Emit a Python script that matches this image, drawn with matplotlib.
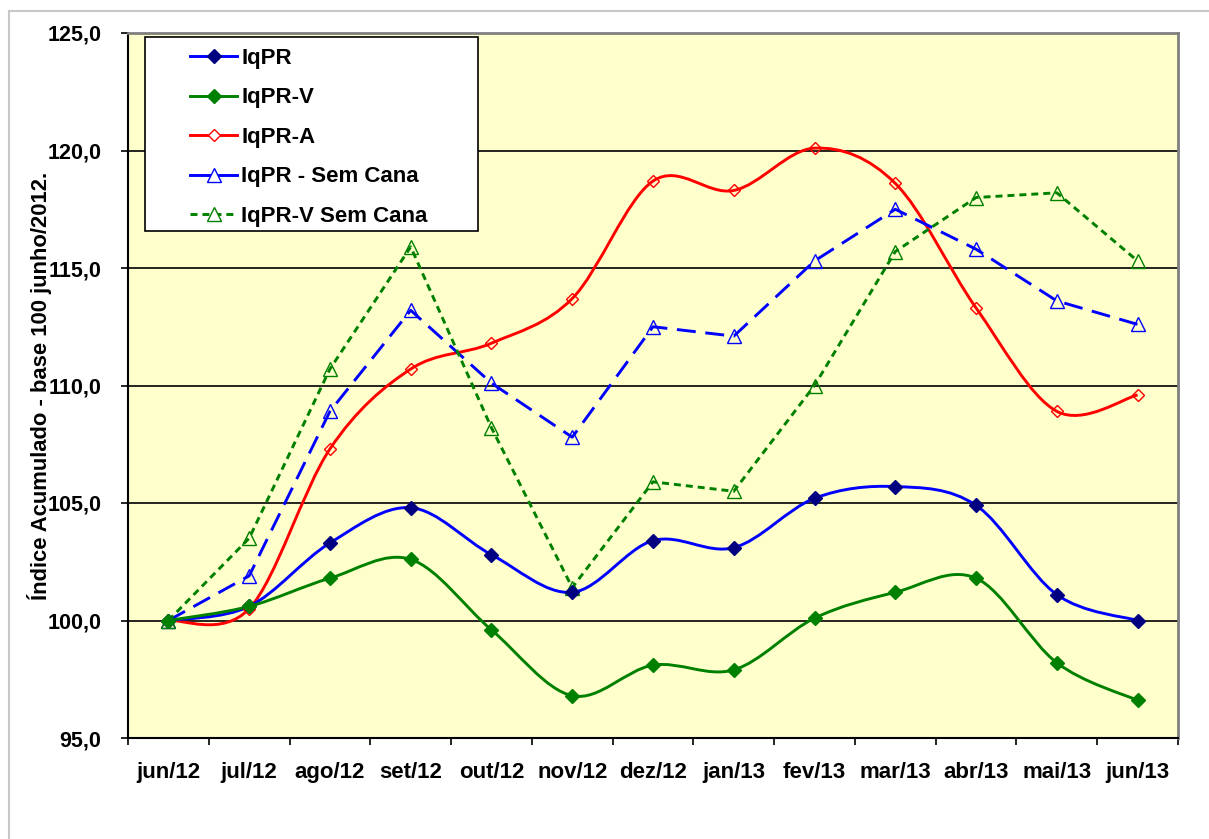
import matplotlib
matplotlib.use("Agg")
import matplotlib.pyplot as plt
from matplotlib.path import Path
from matplotlib.patches import PathPatch, Rectangle
from matplotlib.lines import Line2D
from matplotlib.ticker import FixedLocator, FuncFormatter

plt.rcParams['font.family'] = ['Liberation Sans', 'DejaVu Sans']
plt.rcParams['font.weight'] = 'bold'

# data
meses = ["jun/12", "jul/12", "ago/12", "set/12", "out/12", "nov/12", "dez/12",
         "jan/13", "fev/13", "mar/13", "abr/13", "mai/13", "jun/13"]
iqpr = [100.0, 100.6, 103.3, 104.8, 102.8, 101.2, 103.4, 103.1, 105.2, 105.7, 104.9, 101.1, 100.0]
iqpr_v = [100.0, 100.6, 101.8, 102.6, 99.6, 96.8, 98.1, 97.9, 100.1, 101.2, 101.8, 98.2, 96.6]
iqpr_a = [100.0, 100.5, 107.3, 110.7, 111.8, 113.7, 118.7, 118.3, 120.1, 118.6, 113.3, 108.9, 109.6]
iqpr_sc = [100.0, 101.9, 108.9, 113.2, 110.1, 107.8, 112.5, 112.1, 115.3, 117.5, 115.8, 113.6, 112.6]
iqpr_v_sc = [100.0, 103.5, 110.7, 115.9, 108.2, 101.4, 105.9, 105.5, 110.0, 115.7, 118.0, 118.2, 115.3]

LW = 2.1


def smooth_path(xs, ys):
    # excel-like smoothed line: cubic bezier through the points
    n = len(xs)
    verts = [(xs[0], ys[0])]
    codes = [Path.MOVETO]
    for i in range(n - 1):
        x0, y0 = xs[max(i - 1, 0)], ys[max(i - 1, 0)]
        x1, y1 = xs[i], ys[i]
        x2, y2 = xs[i + 1], ys[i + 1]
        x3, y3 = xs[min(i + 2, n - 1)], ys[min(i + 2, n - 1)]
        verts += [(x1 + (x2 - x0) / 6, y1 + (y2 - y0) / 6),
                  (x2 - (x3 - x1) / 6, y2 - (y3 - y1) / 6),
                  (x2, y2)]
        codes += [Path.CURVE4] * 3
    return Path(verts, codes)


fig = plt.figure(figsize=(12.09, 8.39), dpi=100)
# outer chart border
fig.patches.append(Rectangle((9 / 1209, -0.1), 1.2, 1 - 11 / 839 + 0.1, transform=fig.transFigure,
                             facecolor='none', edgecolor='#c8c8c8', lw=1.5))
ax = fig.add_axes([128 / 1209, 1 - 738 / 839, 1050 / 1209, 705 / 839])
ax.set_facecolor('#ffffcc')

x = list(range(len(meses)))

ax.add_patch(PathPatch(smooth_path(x, iqpr_a), facecolor='none', edgecolor='#ff0000', lw=LW, zorder=3))
ax.plot(x, iqpr_a, ls='none', marker='D', ms=6.5, mfc='none', mec='#ff0000', mew=1, zorder=4)

ax.plot(x, iqpr_sc, color='#0000ff', lw=LW, ls=(0, (6.5, 3.3)), marker='^', ms=10,
        mfc='none', mec='#0000ff', mew=1, zorder=3)
ax.plot(x, iqpr_v_sc, color='#008000', lw=LW, ls=(0, (2.4, 1.7)), marker='^', ms=10,
        mfc='none', mec='#008000', mew=1, zorder=3)

ax.add_patch(PathPatch(smooth_path(x, iqpr), facecolor='none', edgecolor='#0000ff', lw=LW, zorder=3))
ax.plot(x, iqpr, ls='none', marker='D', ms=7.5, color='#000080', zorder=4)

ax.add_patch(PathPatch(smooth_path(x, iqpr_v), facecolor='none', edgecolor='#008000', lw=LW, zorder=3))
ax.plot(x, iqpr_v, ls='none', marker='D', ms=7.5, color='#008000', zorder=4)

ax.set_xlim(-0.5, len(meses) - 0.5)
ax.set_ylim(95, 125)
ax.yaxis.set_major_locator(FixedLocator([95, 100, 105, 110, 115, 120, 125]))
ax.yaxis.set_major_formatter(FuncFormatter(lambda v, p: f"{v:.1f}".replace('.', ',')))
ax.grid(axis='y', color='black', lw=1.2, zorder=1)
ax.set_axisbelow(True)

ax.set_xticks([i - 0.5 for i in range(len(meses) + 1)])
ax.set_xticklabels([])
ax.set_xticks(x, minor=True)
ax.set_xticklabels(meses, minor=True, fontsize=16, fontweight='bold')
ax.tick_params(axis='x', which='minor', length=0, pad=17)
ax.tick_params(axis='x', which='major', length=5, width=1.2, direction='out')
ax.tick_params(axis='y', length=5, width=1.2, direction='out', pad=14, labelsize=15.5)

ax.spines['left'].set_color('black')
ax.spines['bottom'].set_color('black')
ax.spines['left'].set_linewidth(1.5)
ax.spines['bottom'].set_linewidth(1.5)
ax.spines['top'].set_color('#808080')
ax.spines['right'].set_color('#808080')
ax.spines['top'].set_linewidth(2)
ax.spines['right'].set_linewidth(2)

ax.set_ylabel("Índice Acumulado - base 100 junho/2012.", fontsize=15.8, fontweight='bold')
ax.yaxis.set_label_coords(-76 / 1050, 0.5)

# legend box drawn by hand, entries placed inside it
ax.add_patch(Rectangle(((145 - 128) / 1050, (738 - 231) / 705), 333 / 1050, 194 / 705,
                       transform=ax.transAxes, facecolor='white', edgecolor='black', lw=1.2, zorder=6))
handles = [
    Line2D([], [], color='#0000ff', lw=LW, marker='D', ms=7.5, mfc='#000080', mec='#000080'),
    Line2D([], [], color='#008000', lw=LW, marker='D', ms=7.5, mfc='#008000', mec='#008000'),
    Line2D([], [], color='#ff0000', lw=LW, marker='D', ms=6.5, mfc='white', mec='#ff0000'),
    Line2D([], [], color='#0000ff', lw=LW, marker='^', ms=10, mfc='white', mec='#0000ff'),
    Line2D([], [], color='#008000', lw=LW, ls=(0, (2.4, 1.7)), marker='^', ms=10, mfc='white', mec='#008000'),
]
labels = ["IqPR", "IqPR-V", "IqPR-A", "IqPR - Sem Cana", "IqPR-V Sem Cana"]
leg = ax.legend(handles, labels, loc='upper left', bbox_to_anchor=((190 - 128) / 1050, (738 - 48) / 705),
                frameon=False, borderpad=0, borderaxespad=0, handlelength=2.12, handletextpad=0.18,
                labelspacing=0.83, numpoints=1, prop={'family': 'Liberation Sans', 'weight': 'bold', 'size': 16})
leg.set_zorder(7)

fig.savefig("out.png", dpi=100, facecolor='white')
